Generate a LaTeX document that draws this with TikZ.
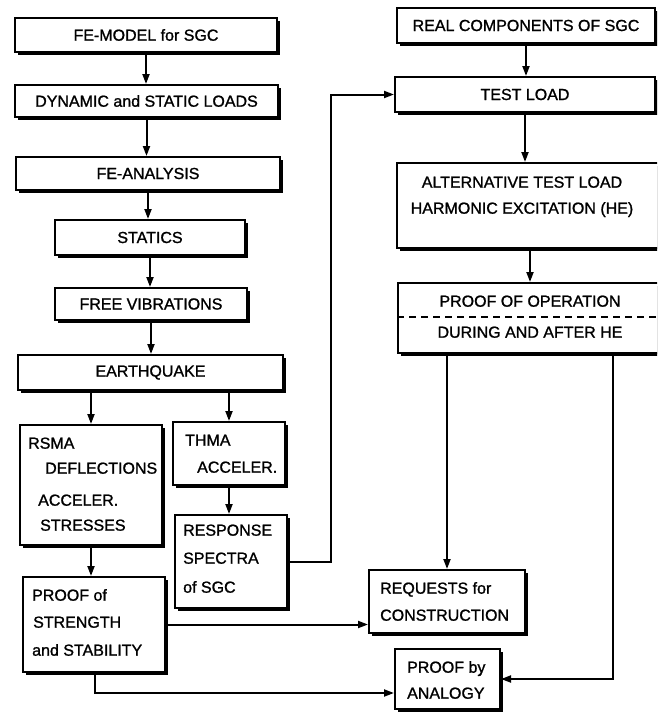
\documentclass[tikz,border=0pt]{standalone}
\usepackage{fontspec}
\setmainfont{Liberation Sans}[FakeBold=1.2]
\usetikzlibrary{arrows.meta,shadows}
\begin{document}
\begin{tikzpicture}[x=1pt,y=-1pt,
  box/.style={draw=black, line width=2pt, fill=white, inner sep=0pt,
    font=\fontsize{16}{19}\selectfont,
    drop shadow={shadow xshift=3pt, shadow yshift=-3pt, fill=black, opacity=1}},
  arr/.style={line width=2pt, -{Triangle[length=10pt,width=7pt]}},
  txt/.style={font=\fontsize{16}{19}\selectfont, inner sep=0pt, anchor=base west},
  ctxt/.style={font=\fontsize{16}{19}\selectfont, inner sep=0pt, anchor=base},
]
\useasboundingbox (0,0) rectangle (657,712);
\clip (0,0) rectangle (657,712);

% left column
\node[box, minimum width=262pt, minimum height=34pt] (fem) at (146,35) {FE-MODEL for SGC};
\node[box, minimum width=263pt, minimum height=32pt] (dyn) at (146.5,101) {DYNAMIC and STATIC LOADS};
\node[box, minimum width=264pt, minimum height=33pt] (fea) at (148,173.5) {FE-ANALYSIS};
\node[box, minimum width=190pt, minimum height=35pt] (sta) at (150,237.5) {STATICS};
\node[box, minimum width=192pt, minimum height=32pt] (fvi) at (151,304) {FREE VIBRATIONS};
\node[box, minimum width=265pt, minimum height=35pt] (eq) at (150.5,372.5) {EARTHQUAKE};
\node[box, minimum width=142pt, minimum height=120pt] (rsma) at (91,485) {};
\node[box, minimum width=112pt, minimum height=63pt] (thma) at (229,453.5) {};
\node[box, minimum width=112pt, minimum height=93pt] (resp) at (231,561.5) {};
\node[box, minimum width=142pt, minimum height=95pt] (pos) at (94,624.5) {};

% right column
\node[box, minimum width=258pt, minimum height=35pt] (real) at (526,25.5) {REAL COMPONENTS OF SGC};
\node[box, minimum width=260pt, minimum height=35pt] (test) at (525,94.5) {TEST LOAD};
\node[box, minimum width=303pt, minimum height=85pt] (alt) at (548.5,205.5) {};
\node[box, minimum width=302pt, minimum height=70pt] (poo) at (549,318) {};
\node[box, minimum width=156pt, minimum height=63pt] (req) at (447,601.5) {};
\node[box, minimum width=105pt, minimum height=60pt] (pba) at (447.5,679) {};

% texts of multi-line boxes
\node[txt] (r1) at (28,448.7) {RSMA};
\node[txt] (r2) at (45,473.7) {DEFLECTIONS};
\node[txt] (r3) at (38,505.7) {ACCELER.};
\node[txt] (r4) at (40,530.7) {STRESSES};
\node[txt] (h1) at (185,445.7) {THMA};
\node[txt] (h2) at (197,472.7) {ACCELER.};
\node[txt] (s1) at (183,535.7) {RESPONSE};
\node[txt] (s2) at (183,563.7) {SPECTRA};
\node[txt] (s3) at (183,592.7) {of SGC};
\node[txt] (p1) at (32,600.7) {PROOF of};
\node[txt] (p2) at (33,627.7) {STRENGTH};
\node[txt] (p3) at (32,655.7) {and STABILITY};
\node[txt] (q1) at (380,593.7) {REQUESTS for};
\node[txt] (q2) at (380,620.7) {CONSTRUCTION};
\node[txt] (b1) at (407,672.7) {PROOF by};
\node[txt] (b2) at (407,698.7) {ANALOGY};
\node[ctxt] (a1) at (522,187.7) {ALTERNATIVE TEST LOAD};
\node[ctxt] (a2) at (522,213.7) {HARMONIC EXCITATION (HE)};
\node[ctxt] (o1) at (530,306.7) {PROOF OF OPERATION};
\node[ctxt] (o2) at (530,337.7) {DURING AND AFTER HE};
\draw[line width=1.6pt, dash pattern=on 7pt off 5pt] (poo.west) ++(0,-1) -- ++(270,0);

% connectors
\coordinate (c1) at (331,560);
\coordinate (c2) at (95,693);
\coordinate (c3) at (530,0);
\coordinate (c4) at (613,679);

\draw[arr] (fem.south) -- (fem.south |- dyn.north);
\draw[arr] (dyn.south) -- (dyn.south |- fea.north);
\draw[arr] (fea.south) -- (fea.south |- sta.north);
\draw[arr] (sta.south) -- (sta.south |- fvi.north);
\draw[arr] (fvi.south) -- (fvi.south |- eq.north);
\draw[arr] (eq.south -| rsma.north) -- (rsma.north);
\draw[arr] (eq.south -| thma.north) -- (thma.north);
\draw[arr] (thma.south) -- (thma.south |- resp.north);
\draw[arr] (rsma.south) -- (rsma.south |- pos.north);
\draw[arr] (resp.east) -| (c1 |- test.west) -- (test.west);
\draw[arr] (pos.east) -- (pos.east -| req.west);
\draw[arr] (pos.south -| c2) -- (c2) -- (c2 -| pba.west);
\draw[arr] (real.south) -- (real.south |- test.north);
\draw[arr] (test.south) -- (test.south |- alt.north);
\draw[arr] (alt.south -| c3) -- (c3 |- poo.north);
\draw[arr] (poo.south -| req.north) -- (req.north);
\draw[arr] (poo.south -| c4) -- (c4) -- (c4 -| pba.east);
\end{tikzpicture}
\end{document}
